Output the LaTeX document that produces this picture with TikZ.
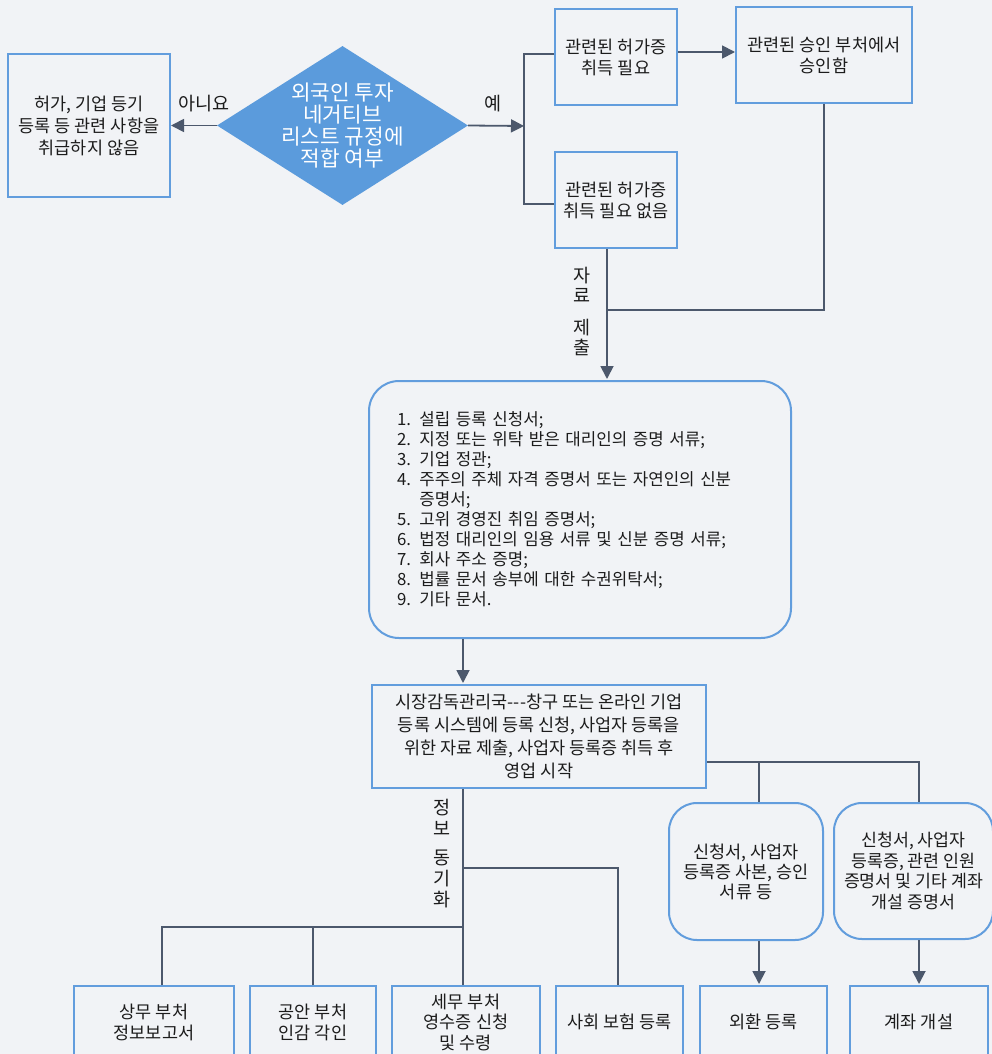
\documentclass[tikz,border=0pt]{standalone}
\usepackage{fontspec}
\setmainfont{Noto Sans CJK KR}
\usetikzlibrary{arrows.meta,shapes.geometric}
\definecolor{bg}{RGB}{241,243,246}
\definecolor{bblue}{RGB}{98,157,221}
\definecolor{dfill}{RGB}{91,155,220}
\definecolor{lcol}{RGB}{76,88,108}
\definecolor{tcol}{RGB}{28,28,28}
\begin{document}
\begin{tikzpicture}[x=1pt,y=-1pt,
  box/.style={draw=bblue,line width=2pt,inner sep=0pt,align=center,text=tcol,font=\fontsize{17.5}{21}\selectfont},
  rbox/.style={box,rounded corners=28pt},
  conn/.style={draw=lcol,line width=1.8pt},
  arr/.style={conn,-{Triangle[length=13pt,width=13pt]}},
  lab/.style={text=tcol,font=\fontsize{18.5}{20}\selectfont,align=center,inner sep=0pt}]
\useasboundingbox (0,0) rectangle (992,1054);
\fill[bg] (0,0) rectangle (992,1054);
\clip (0,0) rectangle (992,1054);

% top row
\node[box, minimum width=162pt, minimum height=143pt, font=\fontsize{17.5}{22}\selectfont] (nolic) at (89,125.5) {허가, 기업 등기\\등록 등 관련 사항을\\취급하지 않음};
\node[diamond, fill=dfill, minimum width=251pt, minimum height=159pt, inner sep=0pt] (dec) at (342.5,125.5) {};
\node[text=white, align=center, font=\fontsize{21.3}{22}\selectfont, inner sep=0pt] (dect) at (dec.center) {외국인 투자\\네거티브\\리스트 규정에\\적합 여부};
\node[box, minimum width=122pt, minimum height=96pt] (need) at (616,57) {관련된 허가증\\취득 필요};
\node[box, minimum width=122pt, minimum height=96pt] (noneed) at (616,200) {관련된 허가증\\취득 필요 없음};
\node[box, minimum width=176pt, minimum height=96pt] (appr) at (824,55) {관련된 승인 부처에서\\승인함};

% list
\node[rbox, rounded corners=30pt, minimum height=257pt, text width=366pt, inner xsep=28pt, align=left, font=\fontsize{16.8}{20}\selectfont] (list) at (580,509.5)
{1. 설립 등록 신청서;\\
2. 지정 또는 위탁 받은 대리인의 증명 서류;\\
3. 기업 정관;\\
4. 주주의 주체 자격 증명서 또는 자연인의 신분\\
\hphantom{4. }증명서;\\
5. 고위 경영진 취임 증명서;\\
6. 법정 대리인의 임용 서류 및 신분 증명 서류;\\
7. 회사 주소 증명;\\
8. 법률 문서 송부에 대한 수권위탁서;\\
9. 기타 문서.};

% main box
\node[box, minimum width=334pt, minimum height=103pt, font=\fontsize{17.5}{23}\selectfont] (mainb) at (539,736.5) {시장감독관리국-\kern0pt-\kern0pt-창구 또는 온라인 기업\\등록 시스템에 등록 신청, 사업자 등록을\\위한 자료 제출, 사업자 등록증 취득 후\\영업 시작};

% rounded boxes right
\node[rbox, minimum width=154pt, minimum height=137pt, font=\fontsize{17.5}{20}\selectfont] (rb1) at (746,871.5) {신청서, 사업자\\등록증 사본, 승인\\서류 등};
\node[rbox, minimum width=159pt, minimum height=136pt, font=\fontsize{17.3}{20.7}\selectfont] (rb2) at (913.5,871) {신청서, 사업자\\등록증, 관련 인원\\증명서 및 기타 계좌\\개설 증명서};

% bottom boxes
\node[box, minimum width=160pt, minimum height=72pt] (b1) at (154,1022) {상무 부처\\정보보고서};
\node[box, minimum width=126pt, minimum height=72pt] (b2) at (313,1022) {공안 부처\\인감 각인};
\node[box, minimum width=148pt, minimum height=72pt, font=\fontsize{17.5}{20.5}\selectfont] (b3) at (466,1022) {세무 부처\\영수증 신청\\및 수령};
\node[box, minimum width=127pt, minimum height=72pt] (b4) at (619.5,1022) {사회 보험 등록};
\node[box, minimum width=127pt, minimum height=72pt] (fx) at (763.5,1022) {외환 등록};
\node[box, minimum width=138pt, minimum height=72pt] (acct) at (919,1022) {계좌 개설};

% labels
\node[lab] (lno) at (204,104) {아니요};
\node[lab] (lyes) at (493,104) {예};
\node[lab, font=\fontsize{18.5}{20}\selectfont] (lsub) at (582,311) {자\\료\\[12pt]제\\출};
\node[lab, font=\fontsize{18.5}{21}\selectfont] (lsync) at (442,854) {정\\보\\[8pt]동\\기\\화};

% coordinates
\coordinate (split) at (524,126);
\coordinate (ax) at (607,0);
\coordinate (jn) at (607,310);
\coordinate (bx) at (463,0);
\coordinate (hj) at (463,927);
\coordinate (v1) at (162,927);
\coordinate (sj) at (463,868);
\coordinate (v4) at (618,868);
\coordinate (rj) at (919,762);
\coordinate (rj1) at (759,762);

% connectors top
\draw[arr] (dec.west) -- (nolic.east);
\draw[arr] (dec.east) -- (split);
\draw[conn] ([yshift=3pt]need.west) -| (split) |- ([yshift=-4pt]noneed.west);
\draw[arr] ([yshift=5pt]need.east) -- ([yshift=5pt]need.east -| appr.west);
\draw[conn] (appr.south) |- (jn);
\draw[arr] (noneed.south -| ax) -- ([yshift=1pt]list.north -| ax);

% middle
\draw[arr] (list.south -| bx) -- ([yshift=1pt]mainb.north -| bx);
\draw[conn] (mainb.south -| bx) -- (b3.north -| bx);
\draw[conn] (v1 |- b1.north) -- (v1) -- (hj);
\draw[conn] (b2.north) -- (b2.north |- hj);
\draw[conn] (sj) -- (v4) -- (v4 |- b4.north);

% right branch
\draw[conn] (mainb.east |- rj) -- (rj) -- (rb2.north -| rj);
\draw[conn] (rj1) -- (rb1.north -| rj1);
\draw[arr] (rb1.south -| rj1) -- ([yshift=1pt]fx.north -| rj1);
\draw[arr] (rb2.south -| rj) -- ([yshift=1pt]acct.north -| rj);
\end{tikzpicture}
\end{document}
